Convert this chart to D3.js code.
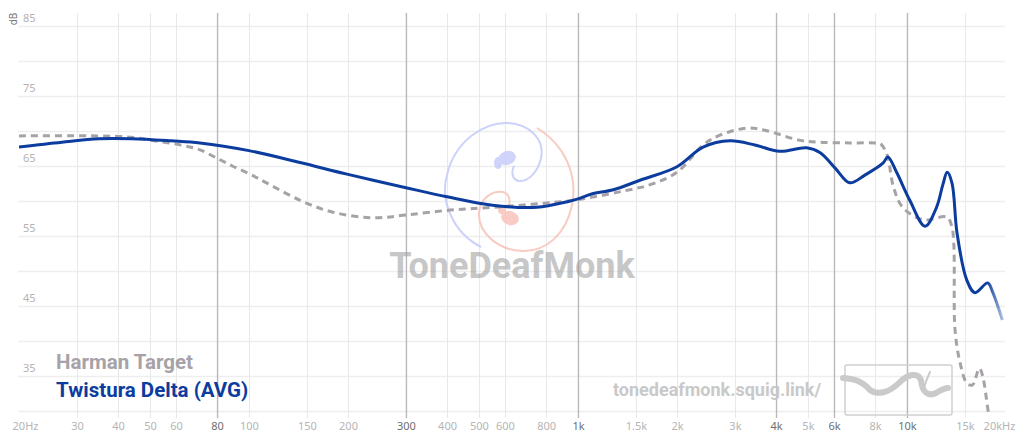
<!DOCTYPE html>
<html>
<head>
<meta charset="utf-8">
<script src="https://cdn.jsdelivr.net/npm/d3@7"></script>
<style>
  html, body { margin: 0; padding: 0; background: #fff; }
  svg { display: block; }
  .axis path.domain { display: none; }
  .axis text { font-family: "Noto Sans", sans-serif; font-size: 11px; }
</style>
</head>
<body>
<div id="chart"></div>
<script>
// frequency response values (Hz / dB)
const harmanFreq = [20, 35, 44, 50, 62, 71, 80, 89, 100, 113, 143, 180, 238, 300, 408, 550, 800, 1000, 1500, 1650, 2000, 2400, 2700, 3250, 3700, 4700, 5400, 6700, 8000, 8300, 8700, 9100, 9700, 11200, 13200, 13700, 14000, 14500, 15200, 15800, 16600, 17000, 17700, 18500];
const harmanDb   = [69.3, 69.3, 69.1, 68.7, 68.0, 67.3, 66.1, 65.0, 63.9, 62.6, 60.1, 58.4, 57.6, 58.0, 58.7, 59.1, 59.7, 60.2, 61.8, 62.3, 64.1, 68.0, 69.4, 70.4, 70.1, 68.7, 68.4, 68.3, 68.3, 68.2, 66.6, 62.0, 59.1, 57.3, 57.7, 56.3, 41.6, 36.9, 34.0, 33.7, 36.1, 34.9, 29.7, 25.0];

const deltaFreq = [20, 27, 35, 44, 58, 71, 100, 143, 200, 300, 400, 550, 750, 930, 1000, 1100, 1280, 1550, 2000, 2400, 2900, 3450, 4100, 4950, 5450, 6050, 6700, 7450, 8450, 8750, 9300, 10200, 11350, 12300, 12850, 13250, 13700, 14200, 15200, 16100, 17600, 18250, 19500];
const deltaDb   = [67.7, 68.4, 68.9, 68.9, 68.6, 68.3, 67.2, 65.5, 63.8, 61.9, 60.6, 59.4, 59.1, 59.9, 60.3, 61.0, 61.6, 63.0, 64.9, 67.7, 68.6, 68.0, 67.1, 67.6, 66.9, 64.7, 62.6, 63.7, 65.4, 66.3, 64.1, 60.1, 56.4, 59.1, 62.3, 64.1, 62.6, 55.4, 48.7, 46.9, 48.3, 46.9, 43.0];

const xTicks      = [20, 30, 40, 50, 60, 80, 100, 150, 200, 300, 400, 500, 600, 800, 1000, 1500, 2000, 3000, 4000, 5000, 6000, 8000, 10000, 15000, 20000];
const xTickLabels = ["20Hz", "30", "40", "50", "60", "80", "100", "150", "200", "300", "400", "500", "600", "800", "1k", "1.5k", "2k", "3k", "4k", "5k", "6k", "8k", "10k", "15k", "20kHz"];
const xStrong     = [80, 300, 1000, 4000, 6000, 10000];
const yTicks      = [85, 80, 75, 70, 65, 60, 55, 50, 45, 40, 35, 30];

const seriesNames = ["Harman Target", "Twistura Delta (AVG)"];

const width = 1024, height = 443;
const blue = "#0b3c9e", grey = "#a7a2a8";

const svg = d3.select("#chart").append("svg")
    .attr("width", width)
    .attr("height", height);

const x = d3.scaleLog().domain([20, 20000]).range([19, 1006]);
const y = d3.scaleLinear().domain([30, 85]).range([411, 26]);

const defs = svg.append("defs");
defs.append("clipPath").attr("id", "plot-clip")
    .append("rect").attr("x", 19).attr("y", 10).attr("width", 987).attr("height", 405);

const fade = defs.append("linearGradient")
    .attr("id", "fade")
    .attr("gradientUnits", "userSpaceOnUse")
    .attr("x1", x(17500)).attr("x2", x(19500)).attr("y1", 0).attr("y2", 0);
fade.append("stop").attr("offset", 0).attr("stop-color", blue).attr("stop-opacity", 1);
fade.append("stop").attr("offset", 1).attr("stop-color", blue).attr("stop-opacity", 0.35);

// horizontal grid + dB labels
const yAxis = svg.append("g")
    .attr("class", "axis")
    .attr("transform", "translate(18,0)")
    .call(d3.axisLeft(y).tickValues(yTicks).tickSize(-987)
        .tickFormat(d => d % 10 === 5 ? d : ""));
yAxis.selectAll("line").attr("stroke", "#eeeeee").attr("stroke-width", 1.5);
yAxis.selectAll("text")
    .attr("x", 5).attr("dy", "-0.45em")
    .attr("text-anchor", "start")
    .attr("fill", "#b3b3b3");

svg.append("text")
    .attr("transform", "translate(17,19) rotate(-90)")
    .attr("text-anchor", "middle")
    .attr("font-family", "Noto Sans, sans-serif")
    .attr("font-size", 10)
    .attr("fill", "#777")
    .text("dB");

// vertical grid + frequency labels
const xAxis = svg.append("g")
    .attr("class", "axis")
    .attr("transform", "translate(0,418)")
    .call(d3.axisBottom(x).tickValues(xTicks).tickSize(-405).tickPadding(4)
        .tickFormat((d, i) => xTickLabels[i]));
xAxis.selectAll(".tick line")
    .attr("stroke", d => xStrong.includes(d) ? "#b9b9b9" : "#e8e8e8")
    .attr("stroke-width", d => xStrong.includes(d) ? 1.4 : 1)
    .attr("display", d => (d === 20 || d === 20000) ? "none" : null);
xAxis.selectAll(".tick text")
    .attr("fill", d => xStrong.includes(d) ? "#6f6f6f" : "#b5b5b5")
    .attr("dx", d => d === 20 ? 6 : d === 20000 ? -7 : 0);

// watermark
svg.append("text")
    .attr("x", 512).attr("y", 278)
    .attr("text-anchor", "middle")
    .attr("font-family", "Roboto, sans-serif")
    .attr("font-weight", 700)
    .attr("font-size", 36)
    .attr("fill", "#9a9a9a")
    .attr("opacity", 0.55)
    .text("ToneDeafMonk");

const logo = svg.append("g").attr("opacity", 0.85);
logo.append("path")
    .attr("d", "M481,247 C452,232 440,200 447,175 C455,140 485,122 508,123 C530,124 545,140 541,158 C538,172 528,182 519,181 C512,180 511,172 514,166")
    .attr("fill", "none").attr("stroke", "#c5cbfa").attr("stroke-width", 2);
logo.append("path")
    .attr("d", "M537,128 C565,145 578,175 572,205 C566,235 545,252 522,251 C498,250 478,233 479,213 C480,198 493,190 503,192 C510,194 511,202 508,208")
    .attr("fill", "none").attr("stroke", "#f7c3b9").attr("stroke-width", 2);
logo.append("ellipse").attr("cx", 507).attr("cy", 158).attr("rx", 9).attr("ry", 7)
    .attr("transform", "rotate(-20 507 158)").attr("fill", "#c8cdfa");
logo.append("ellipse").attr("cx", 498).attr("cy", 163).attr("rx", 4).attr("ry", 6)
    .attr("fill", "#c8cdfa");
logo.append("ellipse").attr("cx", 510).attr("cy", 218).attr("rx", 9).attr("ry", 7)
    .attr("transform", "rotate(20 510 218)").attr("fill", "#f7c4ba");
logo.append("ellipse").attr("cx", 502).attr("cy", 210).attr("rx", 4).attr("ry", 4)
    .attr("fill", "#f7c4ba");

// url + small logo
svg.append("text")
    .attr("x", 613).attr("y", 396)
    .attr("font-family", "Roboto, sans-serif")
    .attr("font-weight", 700)
    .attr("font-size", 18)
    .attr("fill", "#c9c9c9")
    .text("tonedeafmonk.squig.link/");
svg.append("rect")
    .attr("x", 845).attr("y", 365).attr("width", 107).attr("height", 50).attr("rx", 2)
    .attr("fill", "none").attr("stroke", "#cfcfcf").attr("stroke-width", 1.5);
svg.append("path")
    .attr("d", "M843,378 C855,379 862,381 870,390 C878,396 890,392 900,382 C908,374 918,372 921,380 C922,392 928,397 936,393 C941,390 945,388 948,388")
    .attr("fill", "none").attr("stroke", "#cacaca").attr("stroke-width", 6).attr("stroke-linecap", "round");
svg.append("path")
    .attr("d", "M924,388 C926,381 928,376 930,372")
    .attr("fill", "none").attr("stroke", "#cacaca").attr("stroke-width", 2).attr("stroke-linecap", "round");

// curves
const line = d3.line()
    .x(d => x(d[0]))
    .y(d => y(d[1]))
    .curve(d3.curveCatmullRom.alpha(0.5));

const plot = svg.append("g").attr("clip-path", "url(#plot-clip)");

plot.append("path")
    .datum(harmanFreq.map((f, i) => [f, harmanDb[i]]))
    .attr("d", line)
    .attr("fill", "none")
    .attr("stroke", grey)
    .attr("stroke-width", 3)
    .attr("stroke-dasharray", "7,5");

plot.append("path")
    .datum(deltaFreq.map((f, i) => [f, deltaDb[i]]))
    .attr("d", line)
    .attr("fill", "none")
    .attr("stroke", "url(#fade)")
    .attr("stroke-width", 3)
    .attr("stroke-linejoin", "round");

// legend
svg.selectAll(".legend")
    .data(seriesNames)
    .join("text")
    .attr("class", "legend")
    .attr("x", 56)
    .attr("y", (d, i) => 369 + i * 28)
    .attr("font-family", "Roboto, sans-serif")
    .attr("font-weight", 700)
    .attr("font-size", 20.5)
    .attr("fill", (d, i) => i === 0 ? grey : blue)
    .text(d => d);
</script>
</body>
</html>
